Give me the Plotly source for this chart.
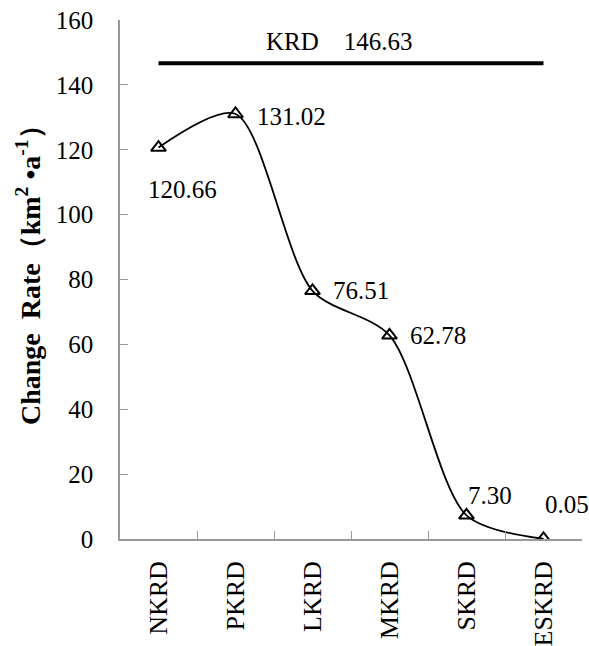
import plotly.graph_objects as go

categories = ["NKRD", "PKRD", "LKRD", "MKRD", "SKRD", "ESKRD"]
rates = [120.66, 131.02, 76.51, 62.78, 7.30, 0.05]
rate_labels = ["120.66", "131.02", "76.51", "62.78", "7.30", "0.05"]
total_name = "KRD"
total_rate = 146.63

FONT = "Liberation Serif"

fig = go.Figure()

fig.add_trace(go.Scatter(
    x=categories, y=rates, mode="lines+markers",
    line=dict(color="black", width=1.8, shape="spline", smoothing=0.8),
    marker=dict(symbol="triangle-up-open", size=13, color="black",
                line=dict(width=2, color="black")),
    showlegend=False))

fig.add_trace(go.Scatter(
    x=[categories[0], categories[-1]], y=[total_rate, total_rate],
    mode="lines", line=dict(color="black", width=4), showlegend=False,
    hoverinfo="skip"))

# data labels (pixel offsets from the marker)
offsets = [(24, -42), (56, -2), (48, 0), (48, 0), (23, 20), (23, 34)]
for c, v, t, (dx, dy) in zip(categories, rates, rate_labels, offsets):
    fig.add_annotation(x=c, y=v, text=t, showarrow=False,
                       xshift=dx, yshift=dy,
                       xanchor="center", yanchor="middle",
                       font=dict(family=FONT, size=25, color="black"))

fig.add_annotation(x=0.476, xref="paper", y=total_rate, yref="y",
                   text=f"{total_name}&nbsp;&nbsp;&nbsp;&nbsp;{total_rate:.2f}",
                   showarrow=False, yshift=22,
                   xanchor="center", yanchor="middle",
                   font=dict(family=FONT, size=25, color="black"))

fig.add_annotation(x=0, xref="paper", y=0.522, yref="paper",
                   text="<b>Change&nbsp;&nbsp;Rate（km<sup>2</sup>&nbsp;•a<sup>-1</sup>）</b>",
                   textangle=-90, showarrow=False, xshift=-92,
                   xanchor="center", yanchor="middle",
                   font=dict(family=FONT, size=28, color="black"))

fig.update_layout(
    width=589, height=646,
    margin=dict(l=120, r=7, t=20, b=107),
    paper_bgcolor="white", plot_bgcolor="white",
    font=dict(family=FONT, size=25, color="black"),
)
fig.update_xaxes(
    type="category", categoryorder="array", categoryarray=categories,
    range=[-0.5, len(categories) - 0.5],
    tickson="boundaries", ticks="inside", ticklen=8, automargin=False,
    tickcolor="#999999", showline=True, linecolor="#999999", linewidth=1.5,
    tickangle=-90, showgrid=False, zeroline=False, ticklabelstandoff=10,
    tickfont=dict(family=FONT, size=26, color="black"))
fig.update_yaxes(
    range=[0, 160], dtick=20, ticks="inside", ticklen=8, automargin=False,
    tickcolor="#999999", showline=True, linecolor="#999999", linewidth=1.5,
    showgrid=False, zeroline=False, ticklabelstandoff=20,
    tickfont=dict(family=FONT, size=25, color="black"))

fig.write_html("out.html")
